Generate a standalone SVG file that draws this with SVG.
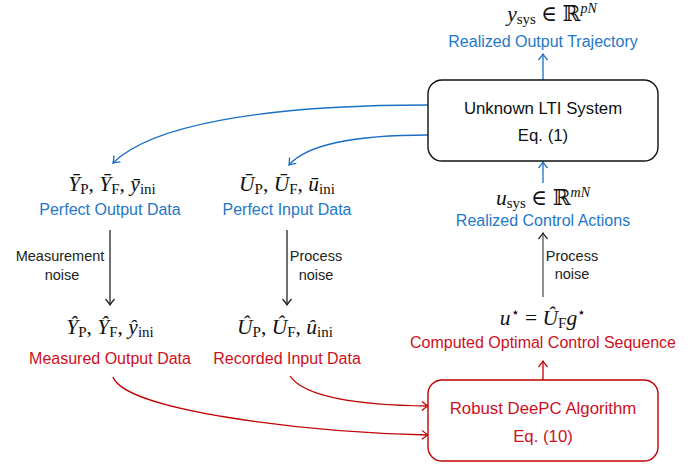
<svg xmlns="http://www.w3.org/2000/svg" width="699" height="465" viewBox="0 0 699 465">
  <style>
    .lbl { font-family: "Liberation Sans", Arial, sans-serif; font-size: 16px; text-anchor: middle; }
    .blue { fill: #1f78c8; }
    .red { fill: #cc101e; }
    .box { font-family: "Liberation Sans", Arial, sans-serif; font-size: 16.8px; text-anchor: middle; }
    .noise { font-family: "Liberation Sans", Arial, sans-serif; font-size: 14.5px; fill: #222; text-anchor: middle; }
    .math { font-family: "Liberation Serif", "DejaVu Serif", serif; font-size: 21.5px; font-style: italic; fill: #111; text-anchor: middle; }
    .sub { font-style: normal; font-size: 15px; }
    .rm { font-style: normal; }
    .sup { font-size: 14px; }
    .ln { fill: none; stroke-width: 1.3; }
  </style>
  <defs>
    <marker id="ah-blue" viewBox="-8 -6 10 12" refX="0" refY="0" markerWidth="10" markerHeight="12" markerUnits="userSpaceOnUse" orient="auto">
      <path d="M-6,-4.5 Q-2.5,-1.5 0,0 Q-2.5,1.5 -6,4.5" fill="none" stroke="#1a6fc4" stroke-width="1.3"/>
    </marker>
    <marker id="ah-red" viewBox="-8 -6 10 12" refX="0" refY="0" markerWidth="10" markerHeight="12" markerUnits="userSpaceOnUse" orient="auto">
      <path d="M-6,-4.5 Q-2.5,-1.5 0,0 Q-2.5,1.5 -6,4.5" fill="none" stroke="#c00000" stroke-width="1.3"/>
    </marker>
    <marker id="ah-black" viewBox="-8 -6 10 12" refX="0" refY="0" markerWidth="10" markerHeight="12" markerUnits="userSpaceOnUse" orient="auto">
      <path d="M-6,-4.5 Q-2.5,-1.5 0,0 Q-2.5,1.5 -6,4.5" fill="none" stroke="#222" stroke-width="1.3"/>
    </marker>
  </defs>

  <rect width="699" height="465" fill="#fff"/>

  <!-- connectors -->
  <g id="connectors">
    <path class="ln" stroke="#1a6fc4" d="M543,80 L543,54" marker-end="url(#ah-blue)"/>
    <path class="ln" stroke="#1a6fc4" d="M543,183 L543,162" marker-end="url(#ah-blue)"/>
    <path class="ln" stroke="#555" d="M543,297 L543,233" marker-end="url(#ah-black)"/>
    <path class="ln" stroke="#c00000" d="M543,380 L543,361" marker-end="url(#ah-red)"/>
    <path class="ln" stroke="#1a6fc4" d="M428,105 C260,105 150,126 113,163" marker-end="url(#ah-blue)"/>
    <path class="ln" stroke="#1a6fc4" d="M428,135 C360,135 308,143 289,165" marker-end="url(#ah-blue)"/>
    <path class="ln" stroke="#222" d="M110,230 L110,305" marker-end="url(#ah-black)"/>
    <path class="ln" stroke="#222" d="M287,230 L287,305" marker-end="url(#ah-black)"/>
    <path class="ln" stroke="#c00000" d="M290,376 C305,398 360,405 428,406" marker-end="url(#ah-red)"/>
    <path class="ln" stroke="#c00000" d="M113,377 C125,410 300,432 428,435" marker-end="url(#ah-red)"/>
    <text class="noise" x="60" y="261">Measurement</text>
    <text class="noise" x="62" y="280">noise</text>
    <text class="noise" x="316" y="261">Process</text>
    <text class="noise" x="316" y="280">noise</text>
    <text class="noise" x="572" y="261">Process</text>
    <text class="noise" x="572" y="279">noise</text>
  </g>

  <!-- plant -->
  <g id="lti-system">
    <rect x="428" y="80" width="230" height="81" rx="14" fill="#fff" stroke="#111" stroke-width="1.4"/>
    <text class="box" x="543" y="114" fill="#111">Unknown LTI System</text>
    <text class="box" x="543" y="141" fill="#111">Eq. (1)</text>
  </g>

  <!-- controller -->
  <g id="deepc">
    <rect x="428" y="380" width="230" height="81" rx="14" fill="#fff" stroke="#c00000" stroke-width="1.4"/>
    <text class="box red" x="543" y="414">Robust DeePC Algorithm</text>
    <text class="box red" x="543" y="442">Eq. (10)</text>
  </g>

  <g id="output-trajectory">
    <text class="math" x="552" y="21">y<tspan class="sub" dy="3">sys</tspan><tspan class="rm" dy="-3"> ∈ ℝ</tspan><tspan class="sup" dy="-8">pN</tspan></text>
    <text class="lbl blue" x="543" y="47">Realized Output Trajectory</text>
  </g>

  <g id="control-actions">
    <text class="math" x="543" y="205">u<tspan class="sub" dy="3">sys</tspan><tspan class="rm" dy="-3"> ∈ ℝ</tspan><tspan class="sup" dy="-8">mN</tspan></text>
    <text class="lbl blue" x="543" y="226">Realized Control Actions</text>
  </g>

  <g id="optimal-sequence">
    <text class="math" x="543" y="325">u<tspan class="sup rm" dy="-8">⋆</tspan><tspan class="rm" dy="8"> = </tspan>Û<tspan class="sub" dy="3">F</tspan><tspan dy="-3">g</tspan><tspan class="sup rm" dy="-8">⋆</tspan></text>
    <text class="lbl red" x="543" y="348">Computed Optimal Control Sequence</text>
  </g>

  <g id="perfect-output">
    <text class="math" x="112" y="191">Ȳ<tspan class="sub" dy="3">P</tspan><tspan class="rm" dy="-3">,  </tspan>Ȳ<tspan class="sub" dy="3">F</tspan><tspan class="rm" dy="-3">,  </tspan>ȳ<tspan class="sub" dy="3">ini</tspan></text>
    <text class="lbl blue" x="110" y="215">Perfect Output Data</text>
  </g>

  <g id="perfect-input">
    <text class="math" x="287" y="191">Ū<tspan class="sub" dy="3">P</tspan><tspan class="rm" dy="-3">,  </tspan>Ū<tspan class="sub" dy="3">F</tspan><tspan class="rm" dy="-3">,  </tspan>ū<tspan class="sub" dy="3">ini</tspan></text>
    <text class="lbl blue" x="287" y="215">Perfect Input Data</text>
  </g>

  <g id="measured-output">
    <text class="math" x="110" y="334">Ŷ<tspan class="sub" dy="3">P</tspan><tspan class="rm" dy="-3">,  </tspan>Ŷ<tspan class="sub" dy="3">F</tspan><tspan class="rm" dy="-3">,  </tspan>ŷ<tspan class="sub" dy="3">ini</tspan></text>
    <text class="lbl red" x="110" y="364">Measured Output Data</text>
  </g>

  <g id="recorded-input">
    <text class="math" x="285" y="334">Û<tspan class="sub" dy="3">P</tspan><tspan class="rm" dy="-3">,  </tspan>Û<tspan class="sub" dy="3">F</tspan><tspan class="rm" dy="-3">,  </tspan>û<tspan class="sub" dy="3">ini</tspan></text>
    <text class="lbl red" x="287" y="364">Recorded Input Data</text>
  </g>
</svg>
